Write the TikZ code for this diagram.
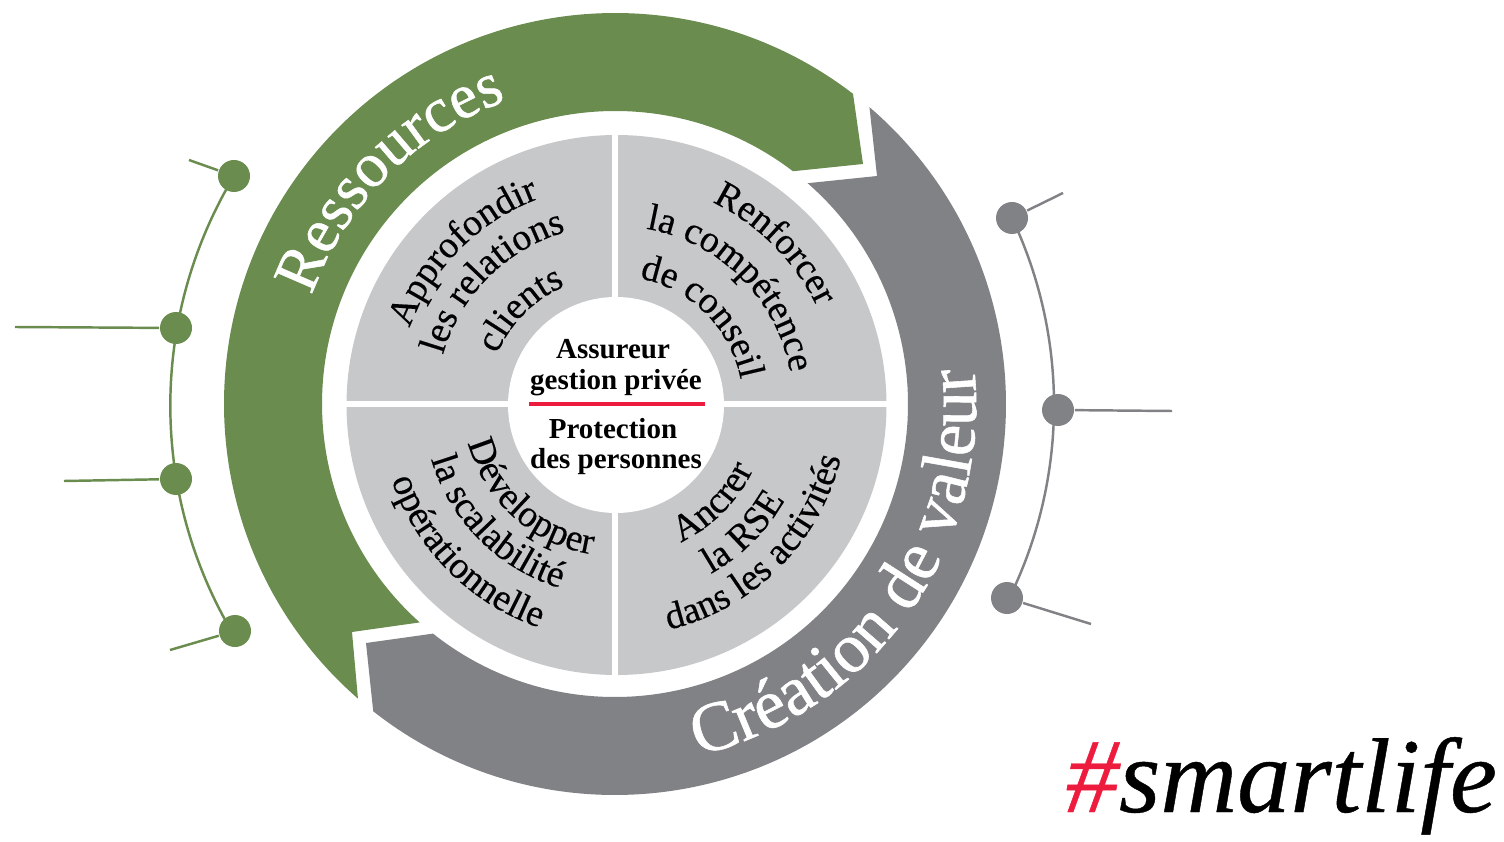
\documentclass[tikz,border=0pt]{standalone}
\usepackage{fontspec}
\setmainfont{Liberation Serif}
\newfontfamily\semiface{Liberation Serif}[FakeBold=0.4]
\newfontfamily\heavyface{Liberation Serif}[FakeBold=0.8]
\usepackage{tikz}
\usetikzlibrary{decorations.text}
\definecolor{ressgreen}{HTML}{6A8C4E}
\definecolor{valgray}{HTML}{808285}
\definecolor{quartgray}{HTML}{C7C8CA}
\definecolor{hashred}{HTML}{ED1C3E}
\tikzset{every picture/.style={line width=1pt},
greendot/.style={circle,fill=ressgreen,minimum size=0.64cm,inner sep=0pt},
graydot/.style={circle,fill=valgray,minimum size=0.64cm,inner sep=0pt},
greenline/.style={draw=ressgreen,line width=1.4pt},
grayline/.style={draw=valgray,line width=1.4pt},
hubtext/.style={inner sep=0pt,font=\fontsize{16.5}{18}\selectfont\bfseries}}
\newcommand{\arctext}[5]{\path[decorate,decoration={text along path,text align=center,text={|#4|#5}}] ([shift={(c)}]#1:#2) arc[start angle=#1,end angle=#3,radius=#2];}
\newcommand{\quartfont}{\fontsize{21.5}{21.5}\selectfont\semiface}
\newcommand{\bandfont}{\fontsize{36}{36}\selectfont\heavyface\color{white}}
\begin{document}
\begin{tikzpicture}
\useasboundingbox (0,0) rectangle (30.08,16.82);
\coordinate (c) at (12.30,8.74);
\fill[ressgreen] ([shift={(c)}]228.9:7.82) arc[start angle=228.9,end angle=52.5,radius=7.82] -- (17.26,13.54) -- ([shift={(c)}]52.6:5.86) arc[start angle=52.6,end angle=228.2,radius=5.86] -- (7.04,4.18) -- cycle;
\fill[valgray] ([shift={(c)}]49.4:7.82) arc[start angle=49.4,end angle=-128.2,radius=7.82] -- (7.32,3.96) -- ([shift={(c)}]-128.4:5.86) arc[start angle=-128.4,end angle=48.9,radius=5.86] -- (17.54,13.30) -- cycle;
\fill[quartgray] (12.33,8.72) circle (5.4);
\foreach \a in {0,90,180,270}{
\draw[white,line width=3.6pt] (c) -- +(\a:5.46);
}
\node[circle,fill=white,minimum size=4.32cm,inner sep=0pt] (hub) at (12.32,8.72) {};
\arctext{225}{4.38}{45}{\quartfont}{Approfondir}
\arctext{225}{3.58}{45}{\quartfont}{les relations}
\arctext{225}{2.56}{45}{\quartfont}{clients}
\arctext{135}{4.48}{-45}{\quartfont}{Renforcer}
\arctext{135}{3.56}{-45}{\quartfont}{la compétence}
\arctext{135}{2.56}{-45}{\quartfont}{de conseil}
\arctext{138}{3.04}{318}{\quartfont}{Développer}
\arctext{135}{3.84}{315}{\quartfont}{la scalabilité}
\arctext{135}{4.72}{315}{\quartfont}{opérationnelle}
\arctext{225}{3.06}{405}{\quartfont}{Ancrer}
\arctext{225}{3.9}{405}{\quartfont}{la RSE}
\arctext{225}{4.64}{405}{\quartfont}{dans les activités}
\arctext{225}{6.44}{45}{\bandfont}{Ressources}
\arctext{-125.5}{7.22}{54.5}{\fontsize{40}{40}\selectfont\heavyface\color{white}}{Création de valeur}
\node[hubtext] (assureur) at (12.26,9.84) {Assureur};
\node[hubtext] (gestion) at (12.32,9.16) {gestion privée};
\node[hubtext] (protection) at (12.26,8.24) {Protection};
\node[hubtext] (personnes) at (12.32,7.58) {des personnes};
\coordinate (redl) at (10.58,8.74);
\coordinate (redr) at (14.10,8.74);
\draw[hashred,line width=2.2pt] (redl) -- (redr);
\foreach \n/\x/\y/\ex/\ey in {1/4.68/13.30/3.78/13.62,2/3.52/10.26/0.30/10.28,3/3.52/7.24/1.28/7.20,4/4.70/4.20/3.40/3.82}{
\node[greendot] (g\n) at (\x,\y) {};
\coordinate (ge\n) at (\ex,\ey);
\draw[greenline] (g\n) -- (ge\n);
}
\foreach \n/\x/\y/\ex/\ey in {1/20.24/12.46/21.26/12.96,2/21.16/8.62/23.44/8.60,3/20.14/4.86/21.82/4.34}{
\node[graydot] (v\n) at (\x,\y) {};
\coordinate (ve\n) at (\ex,\ey);
\draw[grayline] (v\n) -- (ve\n);
}
\draw[greenline] (g1.center) arc[start angle=149,delta angle=61.7,radius=8.92];
\draw[grayline] (v1.center) arc[start angle=25.3,delta angle=-51.6,radius=8.76];
\node[anchor=base west,inner sep=0pt,font=\fontsize{60.5}{60}\selectfont\semiface\itshape] (smartlife) at (21.3,0.58) {\textcolor{hashred}{\#}smartlife};
\end{tikzpicture}
\end{document}
